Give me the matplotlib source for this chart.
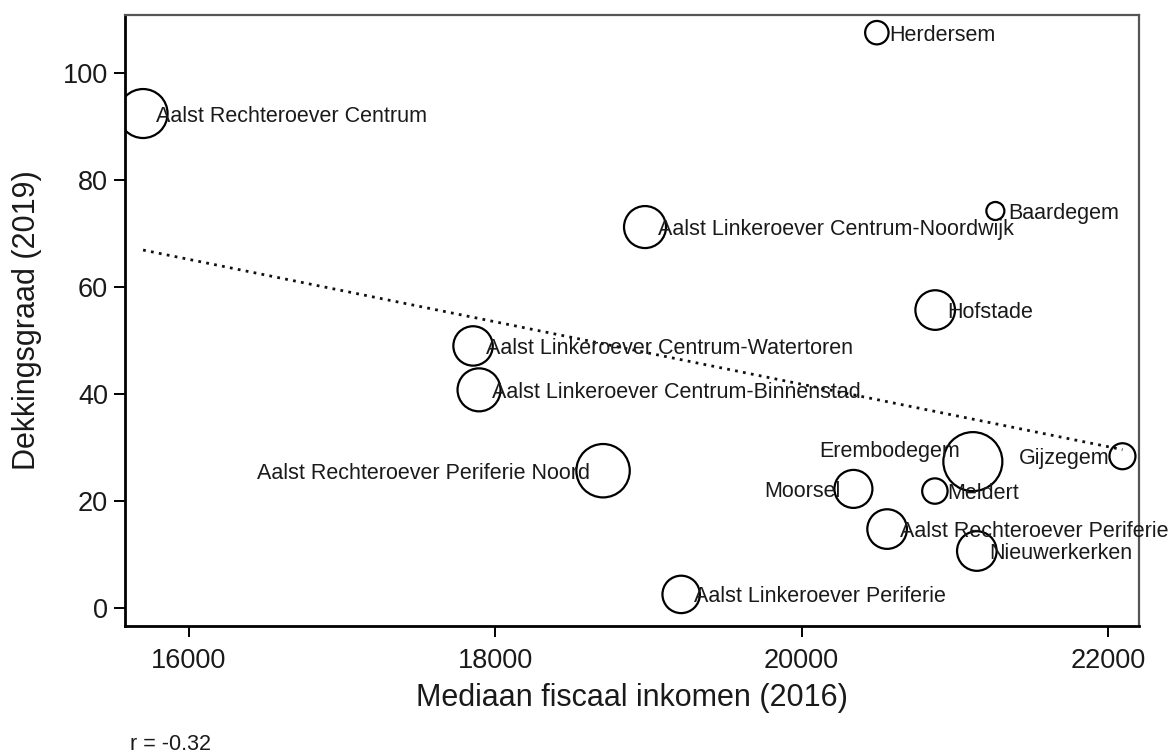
import numpy as np
import matplotlib
matplotlib.use("Agg")
import matplotlib.pyplot as plt

plt.rcParams['font.family'] = ['Liberation Sans', 'DejaVu Sans']

# ---- data ----
names = [
    "Aalst Rechteroever Centrum", "Herdersem", "Baardegem",
    "Aalst Linkeroever Centrum-Noordwijk", "Hofstade",
    "Aalst Linkeroever Centrum-Watertoren", "Aalst Linkeroever Centrum-Binnenstad",
    "Aalst Rechteroever Periferie Noord", "Aalst Linkeroever Periferie",
    "Erembodegem", "Gijzegem", "Moorsel", "Meldert",
    "Aalst Rechteroever Periferie", "Nieuwerkerken",
]
inkomen = [15700, 20492, 21266, 18978, 20873, 17855, 17894, 18704, 19214,
           21119, 22096, 20339, 20871, 20559, 21145]
dekking = [92.4, 107.5, 74.2, 71.2, 55.7, 49.0, 40.8, 25.7, 2.6,
           27.4, 28.4, 22.3, 21.9, 14.8, 10.7]
gewicht = [600, 137, 81, 441, 392, 388, 462, 713, 350,
           870, 169, 361, 161, 392, 392]
# label placement: 'r' right, 'l' left, 'ul' upper-left
positie = ['r', 'r', 'r', 'r', 'r', 'r', 'r', 'l', 'r',
           'ul', 'l', 'l', 'r', 'r', 'r']
x_ticks = [16000, 18000, 20000, 22000]
y_ticks = [0, 20, 40, 60, 80, 100]
r_text = "r = -0.32"

W, H, DPI = 1173, 754, 100
fig = plt.figure(figsize=(W / DPI, H / DPI), dpi=DPI)
ax = fig.add_axes([125 / W, (H - 626) / H, (1139 - 125) / W, (626 - 15) / H])

x = np.array(inkomen, dtype=float)
y = np.array(dekking, dtype=float)
s = 2.0736 * np.array(gewicht, dtype=float)

# fitted line (OLS)
b, a = np.polyfit(x, y, 1)
xl = np.array([x.min(), x.max()])
ax.plot(xl, a + b * xl, color='#111111', lw=2.0, linestyle=(0, (1, 1.9)),
        zorder=1)

ax.scatter(x, y, s=s, facecolors='none', edgecolors='black',
           linewidths=1.6, zorder=2)

off = 9
for xi, yi, nm, p in zip(x, y, names, positie):
    if p == 'r':
        xy, ha = (off, 0), 'left'
    elif p == 'l':
        xy, ha = (-off - 0.5, 0), 'right'
    else:
        xy, ha = (-off, off), 'right'
    ax.annotate(nm, (xi, yi), xytext=xy, textcoords='offset points',
                ha=ha, va='center_baseline', fontsize=15.5, color='#1a1a1a',
                annotation_clip=False, zorder=3)

ax.set_xlim(15582, 22204)
ax.set_ylim(-3.3, 110.8)
ax.set_xticks(x_ticks)
ax.set_yticks(y_ticks)
ax.set_xticklabels([str(t) for t in x_ticks])
ax.set_yticklabels([str(t) for t in y_ticks])
ax.tick_params(axis='both', labelsize=19.5, length=8, width=1.4,
               color='black', labelcolor='#1a1a1a')
ax.tick_params(axis='x', pad=7.5)
ax.tick_params(axis='y', pad=4.3)

for side in ['left', 'bottom']:
    ax.spines[side].set_linewidth(2.0)
    ax.spines[side].set_color('black')
for side in ['top', 'right']:
    ax.spines[side].set_linewidth(1.6)
    ax.spines[side].set_color('#555555')

ax.set_xlabel("Mediaan fiscaal inkomen (2016)", fontsize=22,
              color='#1a1a1a', va='center')
ax.xaxis.set_label_coords(0.5, (626 - 698) / 611)
ax.set_ylabel("Dekkingsgraad (2019)", fontsize=22, color='#1a1a1a',
              va='center')
ax.yaxis.set_label_coords((27 - 125) / 1014, 0.5)

fig.text(130 / W, 4.0 / H, r_text, fontsize=15.5, color='#1a1a1a',
         ha='left', va='baseline')

fig.savefig("out.png", dpi=DPI)
